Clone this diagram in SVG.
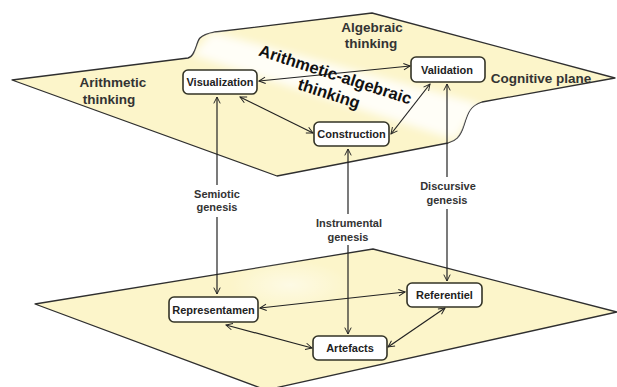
<svg xmlns="http://www.w3.org/2000/svg" width="617" height="387" viewBox="0 0 617 387">
<defs>
<style>
.plane{fill:#FCF5CA;stroke:#2f2f2f;stroke-width:1.3;stroke-linejoin:round}
.node rect{fill:#ffffff;stroke:#333326;stroke-width:1.6}
.node text{font-family:"Liberation Sans",Arial,sans-serif;font-weight:bold;font-size:11px;fill:#222;text-anchor:middle}
.lbl{font-family:"Liberation Sans",Arial,sans-serif;font-weight:bold;font-size:11px;fill:#333;text-anchor:middle}
.big{font-family:"Liberation Sans",Arial,sans-serif;font-weight:bold;font-size:13.5px;fill:#333;text-anchor:middle}
.huge{font-family:"Liberation Sans",Arial,sans-serif;font-weight:bold;font-size:16.5px;fill:#111;text-anchor:middle}
.conn{stroke:#222;stroke-width:1.2;fill:none;marker-start:url(#ah);marker-end:url(#ah)}
.half1{stroke:#222;stroke-width:1.2;fill:none;marker-start:url(#ah)}
.half2{stroke:#222;stroke-width:1.2;fill:none;marker-end:url(#ah)}
</style>
<marker id="ah" viewBox="0 0 10 10" refX="9" refY="5" markerWidth="8" markerHeight="8" markerUnits="userSpaceOnUse" orient="auto-start-reverse">
<path d="M1,1 L9,5 L1,9" fill="none" stroke="#222" stroke-width="1.2"/>
</marker>
<filter id="blur" x="-20%" y="-20%" width="140%" height="140%"><feGaussianBlur stdDeviation="4"/></filter>
<clipPath id="topclip"><path d="M12,80 L188,58 C196,56 196,42 200,38 C204,34 210,33 215,32 L372,13 L615,78 L482,102 C470,106 468,112 464,125 C460,138 455,141 448,143 L277,176 Z"/></clipPath>
<radialGradient id="spot" cx="0.5" cy="0.5" r="0.5"><stop offset="0" stop-color="#ffffff" stop-opacity="0.5"/><stop offset="1" stop-color="#ffffff" stop-opacity="0"/></radialGradient>
</defs>
<g id="bottom-plane">
<path class="plane" d="M35,304 L373,249 L617,312 L266,390 Z"/>
<ellipse cx="290" cy="285" rx="60" ry="25" fill="url(#spot)"/>
</g>
<g id="top-plane">
<path class="plane" d="M12,80 L188,58 C196,56 196,42 200,38 C204,34 210,33 215,32 L372,13 L615,78 L482,102 C470,106 468,112 464,125 C460,138 455,141 448,143 L277,176 Z"/>
<g clip-path="url(#topclip)">
<path d="M192,55 L212,32 L480,104 L455,140 Z" fill="#ffffff" opacity="0.85" filter="url(#blur)"/>
</g>
</g>
<g id="plane-labels">
<text class="big" x="113" y="87">Arithmetic</text>
<text class="big" x="109" y="104">thinking</text>
<text class="big" x="372" y="32">Algebraic</text>
<text class="big" x="371" y="48">thinking</text>
<text class="big" x="541" y="83">Cognitive plane</text>
</g>
<g id="connectors">
<path class="conn" d="M259,81 L410,66"/>
<path class="conn" d="M240,97 L313,133"/>
<path class="conn" d="M430,84 L391,134"/>
<path class="half1" d="M217,97 L217,185"/>
<path class="half2" d="M217,217 L217,294"/>
<path class="half1" d="M348,149 L348,214"/>
<path class="half2" d="M348,245 L348,334"/>
<path class="half1" d="M447,84 L447,177"/>
<path class="half2" d="M447,209 L447,281"/>
<path class="conn" d="M260,308 L405,292"/>
<path class="conn" d="M226,325 L312,348"/>
<path class="conn" d="M388,347 L445,308"/>
</g>
<g id="arith-alg-label" transform="translate(333.5,80) rotate(18)">
<text class="huge" x="0" y="0">Arithmetic-algebraic</text>
<text class="huge" x="0" y="20">thinking</text>
</g>
<g id="genesis-labels">
<text class="lbl" x="217" y="198">Semiotic</text>
<text class="lbl" x="217" y="211">genesis</text>
<text class="lbl" x="349" y="227">Instrumental</text>
<text class="lbl" x="348" y="241">genesis</text>
<text class="lbl" x="448" y="190">Discursive</text>
<text class="lbl" x="447" y="204">genesis</text>
</g>
<g id="node-visualization" class="node"><rect x="183" y="70" width="74" height="24" rx="5"/><text x="220" y="86">Visualization</text></g>
<g id="node-validation" class="node"><rect x="411" y="57" width="74" height="25" rx="5"/><text x="447" y="73.5">Validation</text></g>
<g id="node-construction" class="node"><rect x="314" y="122" width="75" height="24" rx="5"/><text x="351.5" y="138">Construction</text></g>
<g id="node-representamen" class="node"><rect x="169" y="297" width="89" height="25" rx="5"/><text x="213.5" y="313.5">Representamen</text></g>
<g id="node-referentiel" class="node"><rect x="407" y="283" width="75" height="24" rx="5"/><text x="444.5" y="299">Referentiel</text></g>
<g id="node-artefacts" class="node"><rect x="313" y="336" width="74" height="24" rx="5"/><text x="350" y="352">Artefacts</text></g>
</svg>
